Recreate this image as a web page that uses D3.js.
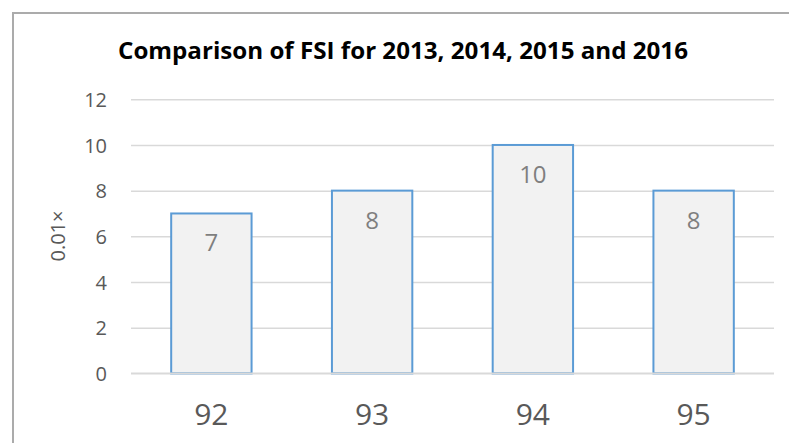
<!DOCTYPE html>
<html>
<head>
<meta charset="utf-8">
<script src="https://cdn.jsdelivr.net/npm/d3@7"></script>
<style>
  html, body { margin: 0; padding: 0; background: #fff; }
  svg { display: block; }
</style>
</head>
<body>
<svg id="chart" width="789" height="443"></svg>
<script>
const categories = ["92", "93", "94", "95"];
const values = [7, 8, 10, 8];
const yTicks = [0, 2, 4, 6, 8, 10, 12];
const titleText = "Comparison of FSI for 2013, 2014, 2015 and 2016";
const yAxisTitle = "0.01×";

const W = 789, H = 443;
const margin = { left: 131, right: 15, top: 99, bottom: 70 };
const font = "'Open Sans', 'Noto Sans', sans-serif";

const svg = d3.select("#chart");

// frame
svg.append("rect")
  .attr("x", 13).attr("y", 13)
  .attr("width", W + 20).attr("height", H + 20)
  .attr("fill", "#fff")
  .attr("stroke", "#ababab").attr("stroke-width", 2);

const x = d3.scaleBand().domain(categories)
  .range([margin.left, 774]).paddingInner(0.5).paddingOuter(0.25);
const y = d3.scaleLinear().domain([0, 12]).range([373.3, 99.3]);

// title
const title = svg.append("text")
  .attr("x", 403).attr("y", 59)
  .attr("text-anchor", "middle")
  .attr("font-family", font).attr("font-weight", "bold")
  .attr("font-size", 24).attr("fill", "#000")
  .text(titleText);
title.attr("textLength", 570).attr("lengthAdjust", "spacingAndGlyphs");

// grid
const yAxis = d3.axisLeft(y).tickValues(yTicks).tickSize(-(774 - margin.left)).tickPadding(24);
const gY = svg.append("g").attr("transform", `translate(${margin.left},0)`).call(yAxis);
gY.select(".domain").remove();
gY.selectAll(".tick line").attr("stroke", "#d9d9d9").attr("stroke-width", 1.5);
gY.selectAll(".tick text")
  .attr("font-family", font).attr("font-size", 20).attr("fill", "#595959")
  .attr("dy", "0.36em");

// bars
svg.append("g").selectAll("rect").data(values).join("rect")
  .attr("x", (d, i) => x(categories[i]))
  .attr("y", d => y(d))
  .attr("width", x.bandwidth())
  .attr("height", d => y(0) - y(d))
  .attr("fill", "#f2f2f2")
  .attr("stroke", "#5b9bd5").attr("stroke-width", 2);

// data labels
svg.append("g").selectAll("text").data(values).join("text")
  .attr("x", (d, i) => x(categories[i]) + x.bandwidth() / 2)
  .attr("y", d => y(d) + 38)
  .attr("text-anchor", "middle")
  .attr("font-family", font).attr("font-size", 24).attr("fill", "#7f7f7f")
  .text(d => d);

// x axis
const xAxis = d3.axisBottom(x).tickSize(0).tickPadding(0);
const gX = svg.append("g").attr("transform", `translate(0,${y(0)})`).call(xAxis);
gX.select(".domain").attr("stroke", "#d9d9d9").attr("stroke-width", 1.5)
  .attr("d", `M${margin.left},0H774`);
gX.selectAll(".tick text")
  .attr("font-family", font).attr("font-size", 30).attr("fill", "#595959")
  .attr("dy", null).attr("y", 52);

// y axis title
svg.append("text")
  .attr("transform", `translate(65,236) rotate(-90)`)
  .attr("text-anchor", "middle")
  .attr("font-family", font).attr("font-size", 20).attr("fill", "#595959")
  .text(yAxisTitle);
</script>
</body>
</html>
